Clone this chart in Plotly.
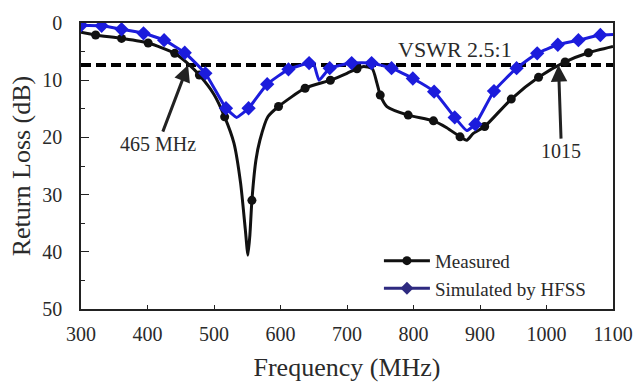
import plotly.graph_objects as go

# ---- data ----
measured_freq = [300, 322, 361, 401, 441, 460, 478, 500, 516, 530, 540, 547, 551, 554, 557, 563,
                 569, 581, 597, 637, 675, 700, 715, 725, 738, 745, 750, 760, 792, 830, 850, 870,
                 880, 890, 907, 947, 988, 1028, 1063, 1100]
measured_rl = [1.6, 2.1, 2.7, 3.5, 5.3, 7.0, 9.1, 12.5, 16.4, 21.0, 28.0, 36.0, 40.6, 37.0, 31.0, 24.0,
               20.5, 16.4, 14.6, 11.4, 10.0, 8.8, 8.0, 7.6, 8.0, 10.5, 12.6, 14.6, 16.1, 17.1, 18.3, 19.9,
               20.5, 19.3, 18.1, 13.3, 9.5, 6.8, 5.2, 4.1]
measured_marker_freq = [322, 361, 401, 441, 478, 516, 557, 597, 637, 675, 715, 750, 792, 830, 870,
                        907, 947, 988, 1028, 1063]

sim_freq = [300, 331, 361, 394, 425, 456, 487, 518, 534, 552, 580, 612, 643, 650, 658, 674, 707,
            737, 767, 799, 831, 862, 880, 893, 921, 955, 986, 1017, 1048, 1081, 1100]
sim_rl = [0.4, 0.5, 1.1, 1.8, 3.0, 5.2, 8.8, 14.9, 16.5, 14.9, 10.7, 8.1, 7.0, 7.2, 10.0, 7.9, 7.0,
          7.0, 7.9, 9.7, 12.0, 16.5, 18.8, 17.7, 11.9, 7.9, 5.3, 3.8, 3.0, 2.1, 2.0]
sim_marker_freq = [300, 331, 361, 394, 425, 456, 487, 518, 552, 580, 612, 643, 674, 707, 737, 767,
                   799, 831, 862, 893, 921, 955, 986, 1017, 1048, 1081]

vswr_level = 7.36  # return loss for VSWR 2.5:1
x_ticks = [300, 400, 500, 600, 700, 800, 900, 1000, 1100]
y_ticks = [0, 10, 20, 30, 40, 50]

FONT = "Liberation Serif, Times New Roman, serif"
TXT = "#2a2a2a"
BLACK = "#111111"
BLUE = "#1c1cdc"
NAVY = "#2e2a80"

m_lookup = dict(zip(measured_freq, measured_rl))
s_lookup = dict(zip(sim_freq, sim_rl))

fig = go.Figure()

# VSWR dashed line
fig.add_trace(go.Scatter(x=[x_ticks[0], x_ticks[-1]], y=[vswr_level, vswr_level], mode="lines",
                         line=dict(color="black", width=4, dash="10px,5px"), showlegend=False,
                         hoverinfo="skip"))

# measured curve
fig.add_trace(go.Scatter(x=measured_freq, y=measured_rl, mode="lines",
                         line=dict(color=BLACK, width=3, shape="spline", smoothing=0.6),
                         showlegend=False))
fig.add_trace(go.Scatter(x=measured_marker_freq, y=[m_lookup[f] for f in measured_marker_freq],
                         mode="markers", marker=dict(color=BLACK, size=9, symbol="circle"),
                         showlegend=False))

# simulated curve
fig.add_trace(go.Scatter(x=sim_freq, y=sim_rl, mode="lines",
                         line=dict(color=BLUE, width=3, shape="spline", smoothing=0.4),
                         showlegend=False))
fig.add_trace(go.Scatter(x=sim_marker_freq, y=[s_lookup[f] for f in sim_marker_freq],
                         mode="markers", marker=dict(color=BLUE, size=11, symbol="diamond"),
                         showlegend=False))

# legend entries
fig.add_trace(go.Scatter(x=[None], y=[None], mode="lines+markers", name="Measured",
                         line=dict(color=BLACK, width=3), marker=dict(color=BLACK, size=9)))
fig.add_trace(go.Scatter(x=[None], y=[None], mode="lines+markers", name="Simulated by HFSS",
                         line=dict(color=NAVY, width=3),
                         marker=dict(color=NAVY, size=10, symbol="diamond")))

axis_common = dict(showline=True, linecolor="#222", linewidth=1.5, mirror=True, showgrid=False,
                   zeroline=False, ticks="inside", tickcolor="#222", automargin=False,
                   tickfont=dict(family=FONT, size=20, color=TXT))

fig.update_xaxes(range=[300, 1100], tickvals=x_ticks, ticklen=4, ticklabelstandoff=6,
                 title=dict(text="Frequency (MHz)", font=dict(family=FONT, size=26, color=TXT), standoff=14),
                 **axis_common)
fig.update_yaxes(range=[50, 0], tickvals=y_ticks, ticklen=8, ticklabelstandoff=13,
                 minor=dict(ticks="inside", ticklen=4, dtick=5, tickcolor="#222", showgrid=False),
                 title=dict(text="Return Loss (dB)", font=dict(family=FONT, size=26, color=TXT), standoff=4),
                 **axis_common)

ann_font = dict(family=FONT, size=20, color=TXT)
fig.add_annotation(x=461, y=vswr_level, ax=-30, ay=79, text="465 MHz", showarrow=True,
                   arrowhead=2, arrowsize=1.1, arrowwidth=3, arrowcolor="#222", font=ann_font)
fig.add_annotation(x=1018, y=vswr_level, ax=3, ay=86, text="1015", showarrow=True,
                   arrowhead=2, arrowsize=1.1, arrowwidth=3, arrowcolor="#222", font=ann_font)
fig.add_annotation(x=862, y=vswr_level, text="VSWR 2.5:1", showarrow=False,
                   font=dict(family=FONT, size=22, color=TXT), yshift=16)

fig.update_layout(width=633, height=384, margin=dict(l=81, r=20, t=23, b=75, autoexpand=False),
                  paper_bgcolor="white", plot_bgcolor="white",
                  legend=dict(x=0.56, y=0.235, xanchor="left", yanchor="top",
                              font=dict(family=FONT, size=19, color=TXT),
                              bgcolor="rgba(0,0,0,0)", tracegroupgap=0, itemwidth=46))

fig.write_html("out.html", config={"displayModeBar": False},
               post_script="document.body.style.margin='0';")
